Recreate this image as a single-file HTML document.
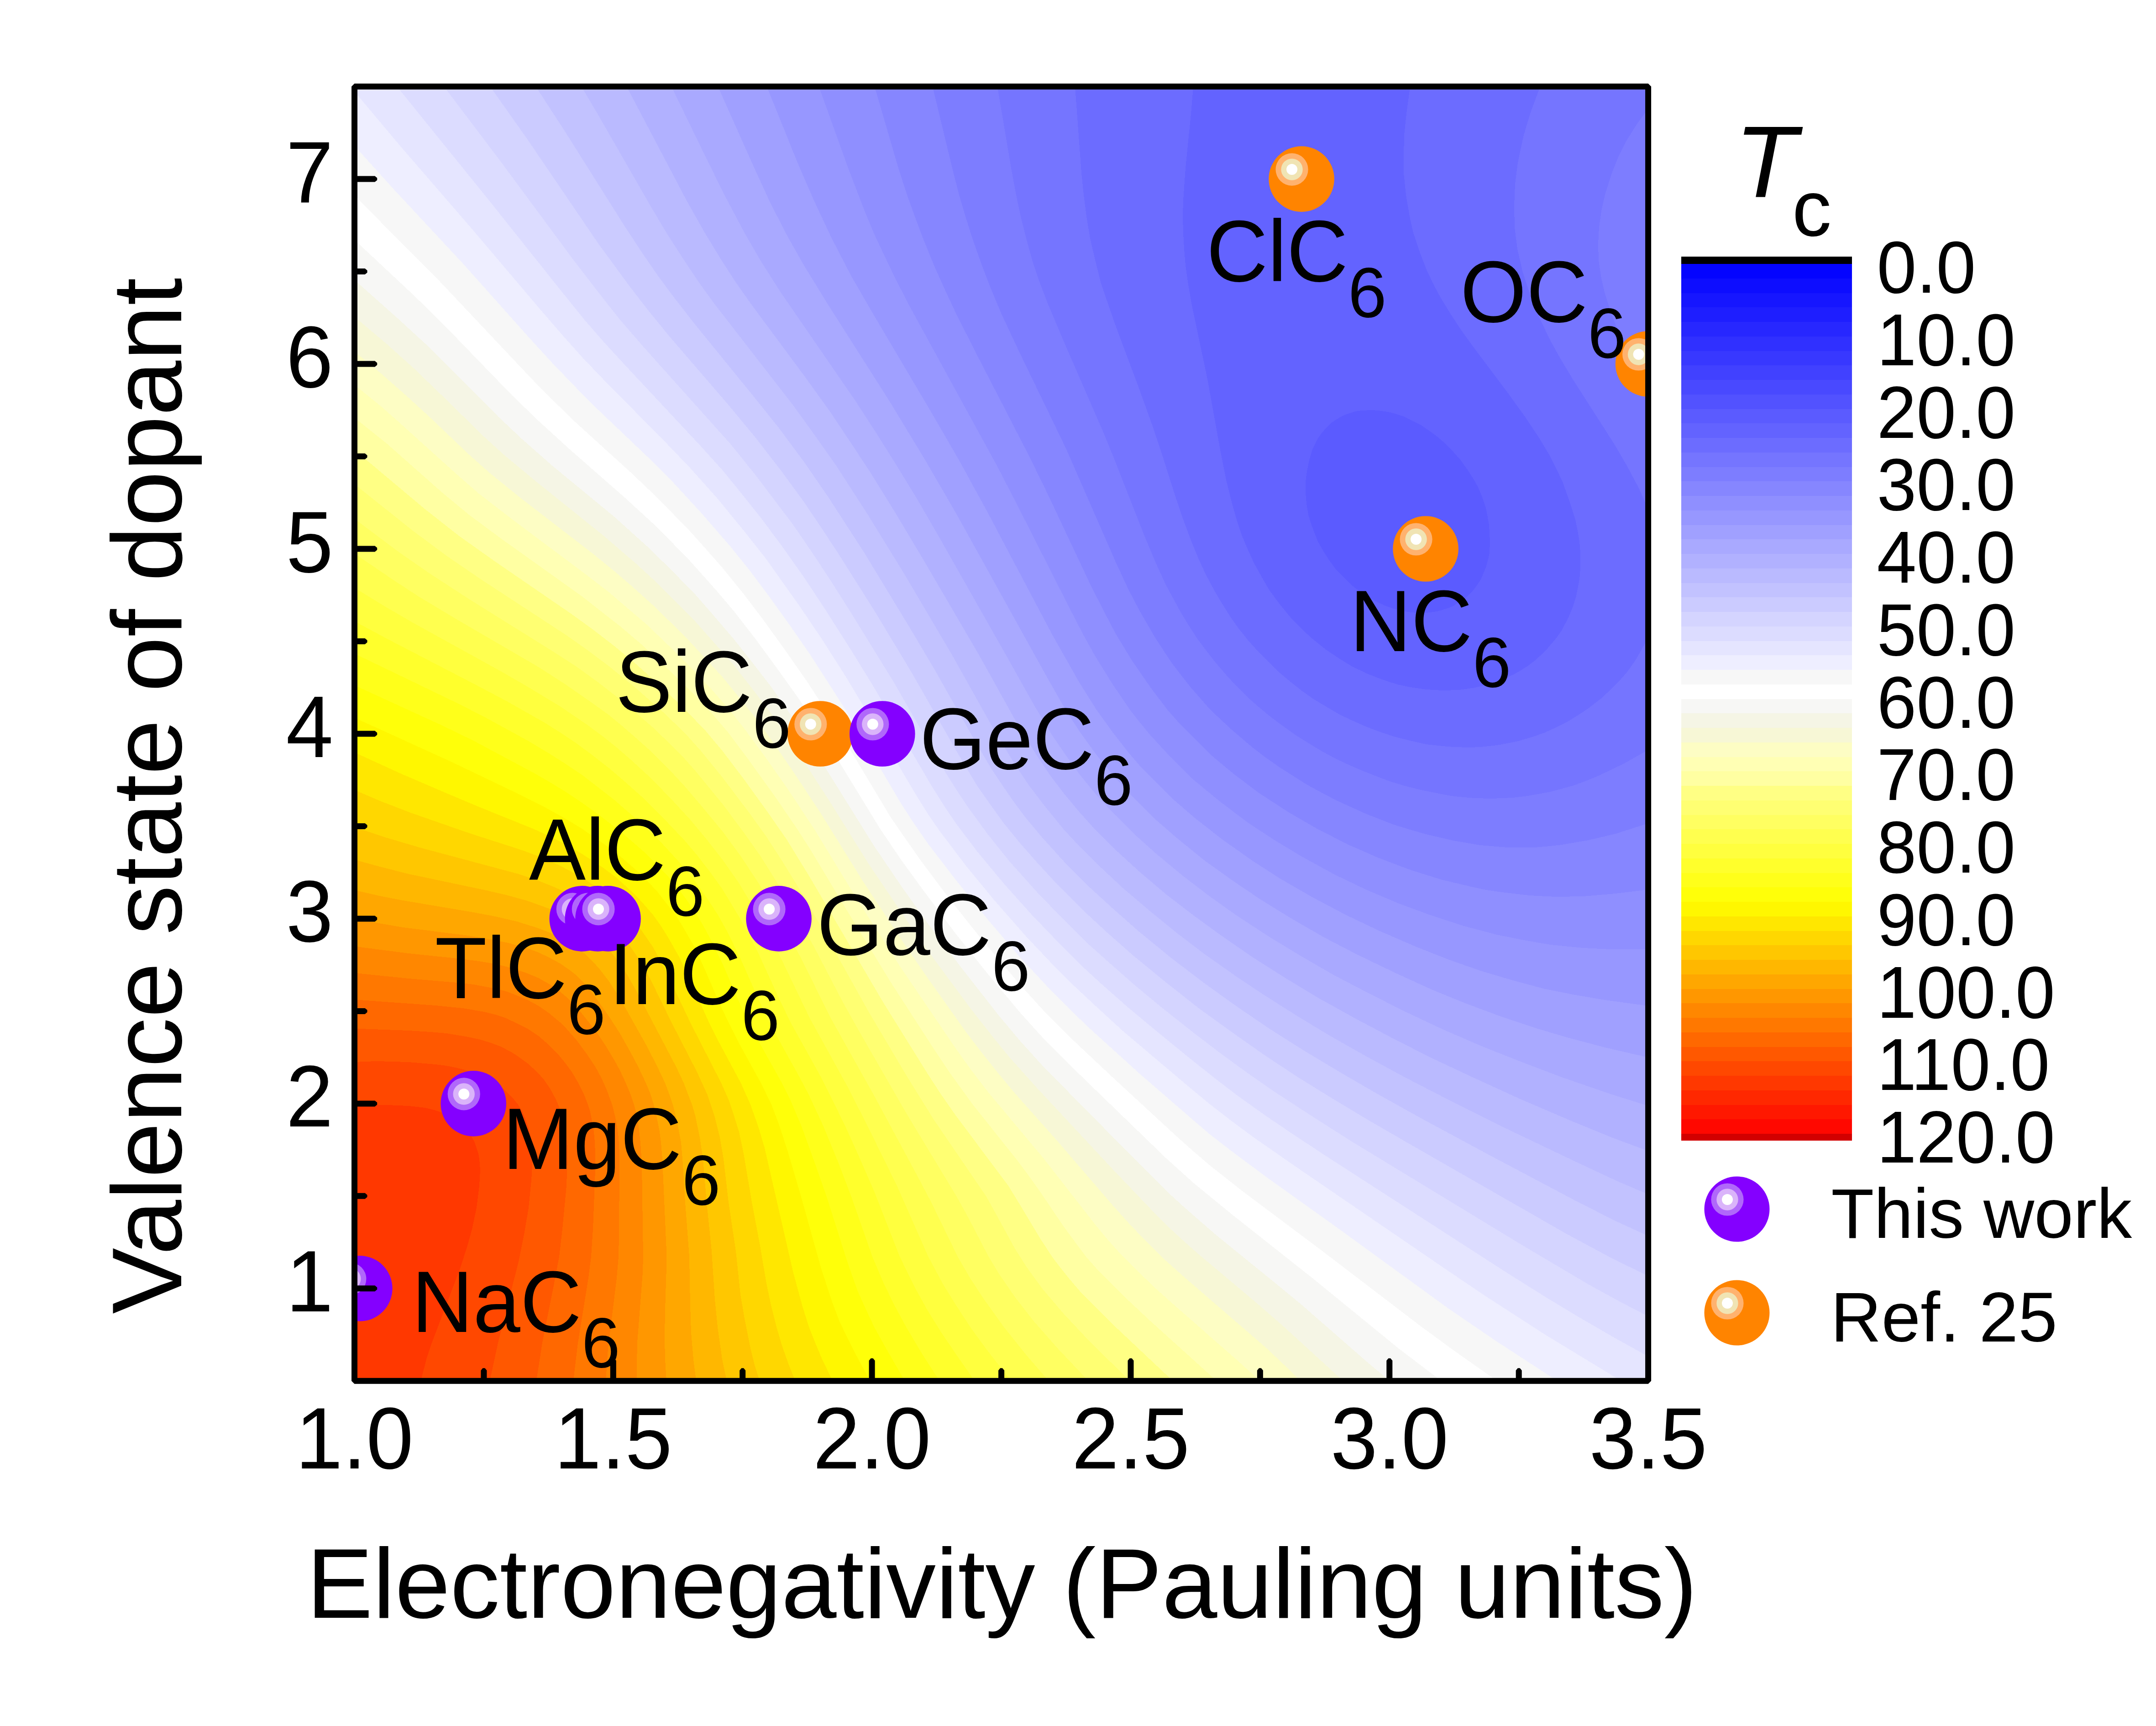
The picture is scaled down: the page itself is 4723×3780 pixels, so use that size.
<!DOCTYPE html>
<html><head><meta charset="utf-8"><title>Tc map</title>
<style>html,body{margin:0;padding:0;background:#fff}svg{display:block}text{font-family:"Liberation Sans",sans-serif;fill:#000}</style></head><body>
<svg width="4723" height="3780" viewBox="0 0 4723 3780">
<rect width="4723" height="3780" fill="#fff"/>
<defs><clipPath id="fr"><rect x="776.5" y="189.6" width="2834.1" height="2834.7"/></clipPath></defs>
<g clip-path="url(#fr)" shape-rendering="crispEdges">
<rect x="775" y="188" width="2836" height="2836" fill="#5b5bff"/>
<path fill="#6363ff" d="M788,190 3611,190 3611,3024 776,3024 776,190ZM2969,901 2947,908 2935,914 2918,925 2905,937 2895,949 2887,960 2881,972 2875,984 2868,1008 2863,1032 2860,1055 2860,1079 2862,1103 2866,1127 2873,1150 2887,1186 2899,1207 2911,1226 2925,1245 2947,1268 2960,1281 2982,1298 2994,1306 3018,1319 3038,1328 3053,1333 3077,1339 3101,1342 3124,1342 3148,1339 3172,1332 3184,1327 3201,1316 3216,1305 3227,1293 3236,1281 3244,1269 3249,1257 3255,1243 3261,1221 3263,1210 3264,1186 3262,1150 3258,1127 3255,1113 3248,1091 3238,1067 3231,1054 3217,1032 3200,1008 3184,990 3167,972 3148,956 3136,947 3113,931 3101,925 3077,913 3053,905 3041,902 3018,899 3006,898 2982,899Z"/>
<path fill="#6c6cff" d="M788,190 2614,190 2609,249 2597,368 2592,439 2591,474 2592,510 2594,545 2597,581 2602,617 2610,664 2645,830 2675,996 2687,1055 2699,1103 2709,1138 2721,1174 2731,1198 2747,1233 2767,1269 2781,1293 2804,1324 2827,1352 2852,1378 2875,1399 2905,1423 2935,1443 2961,1459 2994,1475 3030,1489 3065,1500 3096,1506 3124,1510 3160,1512 3196,1511 3231,1506 3267,1497 3290,1488 3314,1478 3327,1471 3346,1459 3362,1447 3385,1426 3408,1399 3421,1381 3436,1352 3446,1328 3453,1305 3460,1269 3462,1245 3462,1210 3460,1186 3456,1162 3451,1138 3440,1103 3423,1055 3409,1026 3394,996 3373,961 3341,913 3302,859 3227,759 3201,723 3178,688 3156,652 3143,628 3126,593 3112,557 3096,510 3088,474 3080,427 3075,379 3075,344 3076,296 3081,249 3089,190 3611,190 3611,3024 776,3024 776,190Z"/>
<path fill="#7575ff" d="M788,190 2355,190 2369,379 2374,427 2380,474 2388,522 2399,569 2411,617 2425,659 2443,711 2492,842 2522,925 2542,984 2576,1091 2592,1138 2610,1186 2626,1225 2641,1257 2660,1293 2674,1317 2696,1352 2713,1376 2733,1401 2757,1428 2781,1452 2804,1474 2828,1494 2852,1513 2876,1530 2911,1551 2935,1565 2960,1577 2994,1592 3018,1601 3053,1613 3089,1622 3124,1630 3160,1634 3184,1636 3219,1637 3243,1636 3279,1632 3302,1628 3326,1623 3360,1613 3385,1604 3409,1593 3433,1581 3459,1565 3480,1551 3507,1530 3533,1506 3551,1487 3565,1471 3582,1447 3596,1423 3611,1395 3611,3024 776,3024 776,190ZM3373,192 3375,190 3611,190 3611,1119 3600,1091 3589,1067 3564,1020 3536,972 3445,830 3417,783 3397,747 3374,700 3359,664 3346,628 3335,593 3324,545 3318,498 3317,451 3319,403 3325,356 3330,332 3338,296 3352,249Z"/>
<path fill="#7d7dff" d="M788,190 2185,190 2215,368 2226,427 2236,474 2248,522 2261,569 2277,617 2295,664 2330,747 2418,949 2442,1008 2508,1176 2532,1233 2554,1281 2586,1340 2603,1368 2623,1399 2641,1423 2662,1450 2686,1478 2709,1503 2733,1527 2757,1548 2781,1568 2809,1589 2840,1611 2864,1626 2899,1647 2923,1660 2948,1672 2982,1687 3041,1710 3077,1721 3113,1730 3172,1742 3196,1745 3231,1748 3267,1749 3290,1748 3314,1747 3347,1743 3397,1734 3448,1720 3480,1708 3504,1698 3558,1672 3611,1642 3611,3024 776,3024 776,190ZM3611,238 3611,837 3588,806 3567,771 3549,735 3530,688 3515,640 3507,605 3502,569 3501,534 3503,498 3508,462 3516,426 3531,379 3545,344 3563,308 3587,270Z"/>
<path fill="#8686ff" d="M788,190 2043,190 2086,368 2101,427 2115,474 2130,522 2151,581 2169,628 2194,688 2233,771 2336,984 2445,1233 2472,1291 2496,1337 2532,1399 2567,1452 2590,1482 2609,1506 2651,1554 2698,1598 2745,1638 2774,1660 2804,1681 2864,1719 2899,1738 2932,1755 2994,1783 3053,1806 3089,1817 3124,1827 3184,1841 3243,1851 3302,1856 3338,1856 3362,1856 3385,1854 3421,1850 3480,1840 3539,1826 3611,1803 3611,3024 776,3024 776,190Z"/>
<path fill="#8f8fff" d="M788,190 1916,190 1968,368 1987,427 2004,474 2022,522 2046,581 2067,628 2095,688 2137,771 2253,996 2288,1067 2389,1281 2419,1340 2444,1388 2480,1447 2520,1505 2557,1554 2579,1579 2603,1604 2650,1651 2675,1672 2704,1696 2757,1736 2823,1779 2887,1816 2954,1850 3018,1878 3089,1905 3160,1927 3219,1941 3255,1949 3290,1954 3350,1961 3409,1964 3468,1963 3539,1957 3611,1948 3611,3024 776,3024 776,190Z"/>
<path fill="#9797ff" d="M788,190 1794,190 1858,368 1894,462 1914,510 1936,557 1959,605 1989,664 2184,1020 2227,1103 2341,1328 2372,1388 2398,1435 2437,1498 2475,1554 2496,1581 2520,1610 2566,1660 2615,1708 2672,1755 2733,1801 2792,1840 2852,1876 2923,1915 2994,1949 3065,1979 3136,2005 3207,2028 3279,2047 3338,2059 3397,2069 3468,2076 3528,2079 3611,2079 3611,3024 776,3024 776,190Z"/>
<path fill="#a0a0ff" d="M788,190 1680,190 1747,356 1783,439 1822,522 1865,605 1913,688 2039,901 2101,1008 2164,1123 2304,1388 2364,1494 2401,1553 2437,1603 2472,1648 2496,1676 2520,1701 2567,1748 2617,1791 2677,1838 2745,1886 2804,1924 2875,1965 2947,2003 3018,2037 3101,2073 3172,2101 3243,2126 3314,2147 3385,2166 3445,2178 3516,2190 3611,2203 3611,3024 776,3024 776,190Z"/>
<path fill="#a9a9ff" d="M788,190 1573,190 1647,356 1685,439 1721,510 1761,581 1812,664 1950,881 2027,1008 2096,1127 2293,1482 2334,1554 2365,1602 2401,1652 2437,1696 2479,1743 2527,1791 2579,1836 2638,1884 2698,1927 2760,1969 2828,2011 2899,2052 2970,2089 3053,2129 3136,2167 3207,2196 3290,2227 3362,2251 3433,2272 3516,2294 3611,2316 3611,3024 776,3024 776,190Z"/>
<path fill="#b1b1ff" d="M788,190 1471,190 1546,344 1587,427 1631,510 1665,569 1710,640 1874,878 1920,949 1962,1016 2008,1091 2056,1174 2204,1435 2264,1542 2306,1612 2339,1660 2365,1696 2401,1740 2437,1779 2484,1826 2532,1869 2591,1918 2650,1963 2709,2005 2781,2052 2852,2095 2923,2136 2994,2173 3077,2215 3160,2254 3243,2290 3326,2323 3421,2359 3528,2396 3611,2422 3611,3024 776,3024 776,190Z"/>
<path fill="#babaff" d="M788,190 1373,190 1504,439 1544,510 1580,569 1611,617 1644,664 1761,822 1818,901 1858,961 1905,1032 1962,1124 2027,1233 2145,1435 2224,1577 2247,1616 2271,1654 2299,1696 2330,1737 2365,1779 2401,1819 2449,1866 2496,1909 2555,1959 2615,2005 2674,2048 2745,2097 2816,2142 2887,2185 2970,2231 3053,2275 3136,2317 3219,2356 3326,2405 3433,2451 3528,2490 3611,2521 3611,3024 776,3024 776,190Z"/>
<path fill="#c2c2ff" d="M788,190 1274,190 1310,251 1425,451 1460,510 1498,569 1530,617 1564,664 1737,887 1784,952 1832,1020 1901,1127 1981,1257 2086,1435 2179,1601 2222,1672 2254,1720 2290,1767 2329,1815 2365,1854 2413,1901 2460,1945 2520,1996 2579,2044 2638,2089 2709,2139 2769,2179 2840,2224 2911,2267 2994,2314 3077,2359 3172,2408 3290,2467 3445,2541 3539,2585 3611,2616 3611,3024 776,3024 776,190Z"/>
<path fill="#cbcbff" d="M788,190 1174,190 1239,290 1370,498 1409,557 1442,605 1477,652 1523,711 1654,872 1706,937 1761,1011 1816,1091 1893,1210 2001,1388 2050,1471 2137,1625 2172,1684 2196,1720 2223,1759 2247,1791 2282,1833 2330,1886 2377,1934 2437,1989 2496,2041 2567,2099 2638,2153 2709,2204 2781,2253 2852,2298 2935,2348 3018,2396 3113,2449 3267,2532 3456,2632 3539,2674 3611,2707 3611,3024 776,3024 776,190Z"/>
<path fill="#d4d4ff" d="M788,190 1074,190 1156,306 1311,534 1380,628 1417,676 1465,735 1595,886 1654,957 1712,1032 1761,1099 1796,1151 1835,1210 1917,1340 1996,1471 2093,1641 2140,1720 2173,1767 2199,1803 2235,1847 2271,1888 2318,1939 2371,1992 2425,2042 2484,2094 2555,2152 2626,2208 2698,2260 2769,2310 2840,2357 2911,2401 2994,2451 3089,2506 3433,2703 3528,2754 3611,2795 3611,3024 776,3024 776,190Z"/>
<path fill="#dcdcff" d="M788,190 973,190 1097,354 1256,569 1320,652 1358,700 1409,759 1547,913 1600,972 1654,1039 1701,1101 1738,1150 1779,1210 1820,1272 1863,1340 1958,1494 2069,1688 2096,1731 2120,1767 2163,1826 2211,1886 2271,1953 2330,2014 2377,2061 2425,2104 2484,2156 2543,2205 2615,2262 2674,2307 2733,2350 2792,2391 2864,2438 2958,2498 3338,2729 3480,2813 3551,2852 3611,2883 3611,3024 776,3024 776,190Z"/>
<path fill="#e5e5ff" d="M788,190 870,190 1073,441 1222,628 1280,700 1321,747 1364,794 1535,977 1583,1030 1618,1073 1666,1133 1713,1196 1761,1264 1808,1335 1864,1423 1915,1506 2040,1720 2069,1766 2094,1803 2140,1864 2199,1935 2259,2002 2330,2076 2365,2111 2413,2155 2472,2207 2532,2257 2603,2315 2662,2362 2709,2398 2769,2441 2828,2481 2899,2528 3302,2788 3385,2840 3456,2883 3539,2931 3611,2971 3611,3024 776,3024 776,190Z"/>
<path fill="#eeeeff" d="M777,201 877,320 1037,505 1182,676 1233,735 1276,783 1321,830 1464,975 1512,1025 1571,1091 1630,1163 1676,1221 1713,1273 1752,1328 1800,1399 1853,1482 1889,1542 2008,1743 2033,1783 2057,1818 2116,1896 2176,1969 2247,2050 2318,2125 2354,2160 2401,2204 2460,2258 2532,2319 2603,2379 2650,2418 2698,2455 2745,2490 2840,2556 3172,2783 3255,2839 3385,2923 3551,3024 776,3024Z"/>
<path fill="#f7f7f7" d="M777,320 863,415 1014,577 1155,735 1209,794 1290,878 1417,999 1476,1058 1535,1122 1601,1198 1642,1249 1684,1305 1725,1362 1773,1431 1820,1504 1859,1565 1974,1760 2002,1803 2033,1848 2093,1926 2164,2014 2235,2097 2306,2173 2342,2209 2389,2254 2496,2351 2615,2454 2650,2484 2698,2521 2769,2574 2934,2692 3172,2865 3279,2938 3411,3024 776,3024 776,319Z"/>
<path fill="#ffffff" d="M788,439 834,486 966,619 1131,794 1188,854 1261,925 1381,1034 1441,1091 1512,1164 1547,1203 1583,1244 1630,1302 1668,1352 1713,1414 1769,1494 1800,1542 1838,1601 1950,1788 1976,1826 2018,1886 2081,1970 2152,2059 2235,2157 2294,2222 2354,2281 2437,2359 2579,2490 2615,2522 2650,2552 2721,2608 2897,2740 3113,2905 3184,2957 3279,3024 776,3024 776,427Z"/>
<path fill="#f7f7f5" d="M786,534 895,636 943,682 1002,742 1122,866 1180,922 1248,984 1369,1090 1441,1156 1476,1192 1512,1229 1571,1295 1609,1340 1654,1398 1701,1462 1749,1529 1781,1577 1819,1637 1928,1815 1974,1883 2022,1949 2093,2044 2164,2133 2235,2218 2282,2270 2330,2319 2401,2388 2555,2537 2615,2591 2698,2659 2875,2799 3065,2954 3157,3024 776,3024 776,525Z"/>
<path fill="#f5f5e5" d="M781,617 871,697 931,752 990,810 1092,913 1143,961 1210,1020 1346,1132 1417,1196 1452,1230 1488,1266 1524,1303 1559,1343 1607,1399 1642,1443 1690,1505 1725,1555 1761,1607 1796,1662 1915,1853 1974,1940 2033,2023 2105,2118 2188,2224 2235,2280 2282,2332 2342,2393 2496,2549 2555,2608 2591,2641 2662,2703 2795,2811 2852,2858 2994,2982 3044,3024 776,3024 776,613Z"/>
<path fill="#f7f7d6" d="M784,700 848,754 907,807 966,864 1061,957 1104,996 1175,1055 1322,1173 1393,1234 1429,1267 1464,1301 1524,1362 1571,1415 1607,1456 1654,1516 1691,1565 1725,1614 1764,1672 1820,1759 1903,1892 1986,2015 2045,2099 2128,2211 2176,2272 2211,2315 2271,2382 2437,2560 2520,2647 2555,2683 2591,2716 2626,2747 2758,2858 2813,2906 2942,3024 776,3024 776,694Z"/>
<path fill="#fdfdc4" d="M778,771 836,819 895,871 943,915 1028,996 1073,1036 1141,1091 1298,1212 1346,1251 1381,1281 1429,1324 1464,1358 1512,1406 1547,1444 1583,1483 1618,1526 1654,1571 1693,1625 1737,1689 1796,1778 1891,1931 1986,2075 2033,2143 2116,2260 2152,2307 2188,2352 2223,2394 2319,2502 2437,2639 2472,2678 2508,2716 2544,2752 2591,2794 2775,2953 2813,2989 2849,3024 776,3024 776,770Z"/>
<path fill="#ffffb4" d="M788,852 836,891 871,922 1002,1040 1049,1081 1123,1138 1286,1260 1334,1297 1369,1327 1417,1368 1464,1413 1512,1460 1559,1510 1595,1551 1630,1595 1678,1660 1725,1727 1784,1816 1879,1972 1974,2120 2097,2301 2128,2344 2164,2391 2287,2538 2401,2684 2425,2713 2449,2740 2484,2776 2533,2823 2579,2864 2708,2977 2760,3024 776,3024 776,843Z"/>
<path fill="#ffffa2" d="M788,924 848,972 969,1079 1027,1127 1097,1179 1275,1306 1322,1343 1358,1371 1405,1411 1464,1466 1512,1512 1559,1562 1595,1604 1637,1660 1701,1749 1746,1815 1773,1857 1856,1995 1950,2149 2045,2296 2081,2350 2131,2419 2226,2538 2253,2574 2278,2609 2330,2686 2361,2728 2379,2752 2401,2777 2425,2802 2458,2835 2520,2893 2665,3024 776,3024 776,914Z"/>
<path fill="#ffff84" d="M788,995 931,1115 1006,1174 1085,1230 1251,1344 1298,1378 1346,1415 1393,1454 1452,1507 1501,1554 1547,1602 1583,1645 1630,1707 1682,1779 1723,1838 1774,1921 1934,2194 2033,2353 2061,2396 2093,2442 2209,2597 2231,2633 2281,2716 2306,2754 2322,2775 2342,2800 2365,2827 2395,2858 2449,2911 2569,3024 776,3024 776,986Z"/>
<path fill="#ffff72" d="M785,1067 904,1162 978,1217 1054,1269 1239,1390 1286,1423 1334,1459 1393,1507 1452,1559 1500,1605 1535,1644 1583,1703 1642,1781 1678,1831 1713,1885 1750,1945 1798,2028 1903,2216 1986,2356 2045,2451 2161,2621 2181,2657 2223,2734 2249,2775 2284,2823 2330,2877 2389,2940 2475,3024 776,3024 776,1060Z"/>
<path fill="#ffff61" d="M779,1138 875,1210 943,1257 1026,1311 1215,1429 1263,1460 1310,1494 1369,1540 1429,1592 1476,1637 1500,1662 1524,1689 1583,1761 1630,1824 1666,1875 1710,1945 1745,2004 1784,2075 1846,2194 1879,2253 1986,2439 2096,2621 2122,2668 2164,2749 2188,2789 2223,2840 2265,2894 2318,2954 2384,3024 776,3024 776,1137Z"/>
<path fill="#ffff4f" d="M788,1220 860,1269 915,1305 993,1352 1180,1461 1239,1499 1298,1540 1334,1566 1362,1589 1393,1616 1429,1648 1476,1696 1500,1722 1535,1763 1583,1821 1622,1874 1661,1933 1704,2004 1755,2099 1820,2230 1913,2396 2009,2574 2040,2633 2098,2752 2125,2799 2156,2846 2199,2906 2247,2966 2297,3024 776,3024 776,1212Z"/>
<path fill="#ffff3e" d="M786,1293 843,1328 905,1364 1097,1470 1156,1504 1227,1547 1286,1587 1321,1613 1351,1637 1381,1663 1417,1696 1452,1731 1476,1756 1512,1795 1547,1837 1583,1883 1618,1933 1647,1981 1681,2040 1711,2099 1774,2230 1859,2384 1907,2479 1965,2597 2033,2751 2065,2811 2094,2858 2128,2910 2164,2959 2215,3024 776,3024 776,1287Z"/>
<path fill="#ffff2c" d="M783,1364 848,1399 1037,1497 1109,1535 1192,1582 1227,1604 1263,1628 1298,1654 1334,1682 1369,1712 1405,1744 1464,1803 1500,1841 1528,1874 1555,1909 1581,1945 1603,1981 1624,2016 1643,2052 1661,2087 1710,2194 1733,2241 1799,2360 1823,2408 1852,2467 1884,2538 1915,2609 1971,2752 1988,2787 2006,2823 2032,2870 2062,2918 2093,2964 2135,3024 776,3024 776,1360Z"/>
<path fill="#ffff1a" d="M784,1435 1002,1540 1061,1570 1156,1622 1203,1650 1239,1673 1275,1697 1310,1724 1346,1752 1393,1793 1429,1826 1453,1850 1486,1886 1512,1916 1535,1947 1558,1981 1573,2004 1593,2040 1622,2099 1664,2194 1681,2230 1706,2277 1752,2360 1771,2396 1804,2467 1838,2550 1865,2621 1911,2752 1936,2811 1959,2858 1985,2906 2020,2965 2058,3024 776,3024 776,1431Z"/>
<path fill="#ffff09" d="M788,1506 969,1589 1037,1622 1168,1692 1203,1712 1239,1734 1275,1758 1310,1783 1358,1820 1393,1850 1417,1871 1443,1898 1465,1921 1488,1949 1503,1969 1524,1999 1541,2028 1554,2052 1583,2111 1619,2194 1635,2230 1660,2277 1713,2372 1731,2408 1756,2467 1786,2550 1811,2621 1856,2763 1879,2828 1898,2870 1915,2906 1941,2953 1982,3024 776,3024 776,1501Z"/>
<path fill="#fff700" d="M788,1577 990,1669 1132,1737 1192,1767 1239,1793 1275,1815 1310,1839 1346,1865 1369,1884 1393,1905 1417,1928 1441,1954 1462,1981 1480,2004 1495,2028 1522,2075 1544,2123 1580,2206 1597,2241 1618,2283 1667,2372 1690,2419 1708,2467 1727,2526 1755,2621 1798,2775 1821,2846 1839,2894 1856,2929 1874,2965 1906,3024 776,3024 776,1572Z"/>
<path fill="#ffe700" d="M777,1648 882,1696 992,1743 1049,1767 1168,1815 1203,1831 1239,1849 1275,1870 1298,1885 1322,1901 1349,1921 1369,1939 1393,1961 1411,1981 1431,2004 1448,2028 1463,2052 1488,2096 1506,2135 1554,2241 1572,2277 1623,2372 1644,2419 1661,2467 1675,2514 1737,2784 1757,2858 1772,2906 1786,2941 1801,2977 1824,3024 776,3024 776,1648Z"/>
<path fill="#ffd700" d="M779,1731 835,1755 897,1779 1026,1824 1144,1862 1192,1880 1227,1896 1263,1915 1286,1929 1310,1945 1334,1963 1355,1981 1369,1995 1389,2016 1405,2037 1431,2075 1457,2123 1513,2241 1580,2372 1596,2408 1604,2431 1619,2479 1629,2526 1647,2633 1665,2728 1679,2811 1689,2858 1701,2906 1713,2947 1728,2989 1742,3024 776,3024 776,1731Z"/>
<path fill="#ffc700" d="M787,1815 848,1835 919,1856 1132,1913 1180,1929 1215,1943 1239,1954 1263,1966 1286,1981 1310,1998 1332,2016 1346,2030 1365,2052 1381,2073 1405,2109 1426,2147 1472,2241 1527,2348 1549,2396 1557,2419 1565,2443 1577,2491 1585,2538 1596,2633 1612,2740 1622,2835 1630,2882 1644,2953 1653,2989 1664,3024 776,3024 776,1811Z"/>
<path fill="#ffb700" d="M788,1886 836,1899 895,1914 1061,1949 1109,1960 1156,1973 1203,1990 1227,2000 1251,2012 1275,2027 1286,2035 1307,2052 1322,2067 1340,2087 1358,2110 1374,2135 1394,2170 1481,2336 1498,2372 1507,2396 1516,2419 1523,2443 1533,2491 1540,2538 1548,2633 1559,2740 1566,2846 1572,2906 1582,2977 1592,3024 776,3024 776,1882Z"/>
<path fill="#ffa700" d="M788,1952 836,1963 883,1972 1037,1998 1085,2007 1132,2018 1180,2033 1203,2042 1227,2053 1245,2064 1263,2075 1279,2087 1298,2105 1314,2123 1334,2149 1358,2186 1381,2227 1417,2291 1440,2336 1457,2372 1466,2396 1474,2419 1483,2455 1492,2502 1496,2550 1501,2633 1510,2752 1512,2858 1514,2918 1519,2977 1525,3024 776,3024 777,1949Z"/>
<path fill="#ff9700" d="M788,2014 836,2023 883,2031 1026,2049 1073,2057 1109,2064 1132,2070 1156,2077 1180,2086 1203,2097 1227,2110 1246,2123 1263,2136 1284,2158 1298,2175 1334,2226 1358,2263 1381,2304 1398,2336 1415,2372 1425,2396 1432,2419 1438,2443 1445,2479 1448,2502 1451,2538 1460,2740 1460,2775 1457,2870 1456,2929 1457,2977 1460,3024 776,3024 776,2012Z"/>
<path fill="#ff8700" d="M788,2074 895,2088 1002,2099 1049,2105 1085,2111 1109,2117 1132,2124 1156,2132 1180,2142 1203,2155 1225,2170 1239,2182 1263,2205 1283,2230 1310,2265 1326,2289 1346,2322 1358,2344 1371,2372 1381,2396 1389,2419 1395,2443 1399,2467 1403,2502 1406,2550 1409,2752 1408,2787 1396,2941 1395,2989 1395,3024 776,3024 776,2072Z"/>
<path fill="#ff7800" d="M788,2132 895,2143 1002,2152 1037,2156 1085,2165 1109,2171 1132,2180 1156,2190 1180,2203 1203,2219 1227,2239 1241,2253 1263,2278 1286,2309 1304,2336 1317,2360 1328,2384 1341,2419 1347,2443 1352,2467 1355,2491 1357,2526 1357,2562 1356,2704 1355,2752 1351,2799 1332,2953 1327,3024 776,3024 776,2130Z"/>
<path fill="#ff6800" d="M788,2190 954,2202 1014,2208 1061,2216 1085,2222 1109,2230 1132,2241 1156,2253 1180,2269 1203,2289 1226,2313 1239,2329 1253,2348 1267,2372 1279,2396 1286,2414 1292,2431 1297,2455 1301,2479 1303,2502 1304,2526 1304,2562 1299,2692 1295,2752 1289,2799 1266,2941 1256,3024 776,3024 776,2189Z"/>
<path fill="#ff5800" d="M788,2253 895,2257 943,2260 978,2263 1026,2271 1049,2276 1073,2283 1097,2292 1120,2304 1134,2313 1156,2329 1177,2348 1192,2365 1205,2384 1218,2408 1227,2429 1232,2443 1238,2467 1241,2491 1243,2514 1243,2538 1241,2597 1232,2692 1225,2752 1215,2805 1188,2941 1175,3024 776,3024 776,2253Z"/>
<path fill="#ff4800" d="M824,2324 895,2326 954,2331 978,2334 1002,2339 1026,2345 1049,2353 1064,2360 1085,2372 1102,2384 1115,2396 1126,2408 1135,2419 1144,2434 1153,2455 1157,2467 1163,2491 1166,2514 1167,2538 1164,2585 1158,2645 1148,2704 1136,2763 1091,2941 1073,3024 776,3024 776,2326Z"/>
<path fill="#ff3800" d="M788,2422 824,2420 848,2420 895,2422 931,2426 951,2431 966,2436 990,2447 1002,2455 1016,2467 1027,2479 1034,2491 1040,2502 1048,2526 1050,2538 1052,2562 1050,2597 1044,2645 1034,2692 1024,2728 1009,2775 946,2941 934,2977 922,3024 776,3024 776,2423Z"/>
</g>
<g clip-path="url(#fr)">
<circle cx="787.8" cy="2821.8" r="71.8" fill="#8400ff"/><circle cx="766.8" cy="2800.8" r="35.6" fill="#b068fa"/><circle cx="766.8" cy="2800.8" r="23.7" fill="#dab4fa"/><circle cx="766.8" cy="2800.8" r="12" fill="#ffffff"/>
<circle cx="1037.2" cy="2416.9" r="71.8" fill="#8400ff"/><circle cx="1016.2" cy="2395.9" r="35.6" fill="#b068fa"/><circle cx="1016.2" cy="2395.9" r="23.7" fill="#dab4fa"/><circle cx="1016.2" cy="2395.9" r="12" fill="#ffffff"/>
<circle cx="1275.3" cy="2011.9" r="71.8" fill="#8400ff"/><circle cx="1254.3" cy="1990.9" r="35.6" fill="#b068fa"/><circle cx="1254.3" cy="1990.9" r="23.7" fill="#dab4fa"/><circle cx="1254.3" cy="1990.9" r="12" fill="#ffffff"/>
<circle cx="1309.3" cy="2011.9" r="71.8" fill="#8400ff"/><circle cx="1288.3" cy="1990.9" r="35.6" fill="#b068fa"/><circle cx="1288.3" cy="1990.9" r="23.7" fill="#dab4fa"/><circle cx="1288.3" cy="1990.9" r="12" fill="#ffffff"/>
<circle cx="1332.0" cy="2011.9" r="71.8" fill="#8400ff"/><circle cx="1311.0" cy="1990.9" r="35.6" fill="#b068fa"/><circle cx="1311.0" cy="1990.9" r="23.7" fill="#dab4fa"/><circle cx="1311.0" cy="1990.9" r="12" fill="#ffffff"/>
<circle cx="1706.1" cy="2011.9" r="71.8" fill="#8400ff"/><circle cx="1685.1" cy="1990.9" r="35.6" fill="#b068fa"/><circle cx="1685.1" cy="1990.9" r="23.7" fill="#dab4fa"/><circle cx="1685.1" cy="1990.9" r="12" fill="#ffffff"/>
<circle cx="1796.8" cy="1607.0" r="71.8" fill="#ff8400"/><circle cx="1775.8" cy="1586.0" r="35.6" fill="#ffb26e"/><circle cx="1775.8" cy="1586.0" r="23.7" fill="#f0e4b4"/><circle cx="1775.8" cy="1586.0" r="12" fill="#ffffff"/>
<circle cx="1932.8" cy="1607.0" r="71.8" fill="#8400ff"/><circle cx="1911.8" cy="1586.0" r="35.6" fill="#b068fa"/><circle cx="1911.8" cy="1586.0" r="23.7" fill="#dab4fa"/><circle cx="1911.8" cy="1586.0" r="12" fill="#ffffff"/>
<circle cx="3123.1" cy="1202.0" r="71.8" fill="#ff8400"/><circle cx="3102.1" cy="1181.0" r="35.6" fill="#ffb26e"/><circle cx="3102.1" cy="1181.0" r="23.7" fill="#f0e4b4"/><circle cx="3102.1" cy="1181.0" r="12" fill="#ffffff"/>
<circle cx="2851.1" cy="392.1" r="71.8" fill="#ff8400"/><circle cx="2830.1" cy="371.1" r="35.6" fill="#ffb26e"/><circle cx="2830.1" cy="371.1" r="23.7" fill="#f0e4b4"/><circle cx="2830.1" cy="371.1" r="12" fill="#ffffff"/>
<circle cx="3610.6" cy="797.0" r="71.8" fill="#ff8400"/><circle cx="3589.6" cy="776.0" r="35.6" fill="#ffb26e"/><circle cx="3589.6" cy="776.0" r="23.7" fill="#f0e4b4"/><circle cx="3589.6" cy="776.0" r="12" fill="#ffffff"/>
</g>
<g stroke="#000" stroke-width="13" fill="none">
<rect x="776.5" y="189.6" width="2834.1" height="2834.7" stroke-linejoin="bevel"/>
</g>
<path fill="#000" d="M1053.4,3024.3V3001.3L1057.6,2996.3H1062.2L1066.4,3001.3V3024.3ZM1336.8,3024.3V2979.8L1341.0,2974.8H1345.6L1349.8,2979.8V3024.3ZM1620.2,3024.3V3001.3L1624.4,2996.3H1629.0L1633.2,3001.3V3024.3ZM1903.6,3024.3V2979.8L1907.8,2974.8H1912.4L1916.6,2979.8V3024.3ZM2187.1,3024.3V3001.3L2191.2,2996.3H2195.9L2200.1,3001.3V3024.3ZM2470.5,3024.3V2979.8L2474.7,2974.8H2479.3L2483.5,2979.8V3024.3ZM2753.9,3024.3V3001.3L2758.1,2996.3H2762.7L2766.9,3001.3V3024.3ZM3037.3,3024.3V2979.8L3041.5,2974.8H3046.1L3050.3,2979.8V3024.3ZM3320.7,3024.3V3001.3L3324.9,2996.3H3329.5L3333.7,3001.3V3024.3ZM776.5,2815.3H821.2L826.2,2819.5V2824.1L821.2,2828.3H776.5ZM776.5,2612.8H799.5L804.5,2617.0V2621.6L799.5,2625.8H776.5ZM776.5,2410.4H821.2L826.2,2414.6V2419.2L821.2,2423.4H776.5ZM776.5,2207.9H799.5L804.5,2212.1V2216.7L799.5,2220.9H776.5ZM776.5,2005.4H821.2L826.2,2009.6V2014.2L821.2,2018.4H776.5ZM776.5,1802.9H799.5L804.5,1807.1V1811.7L799.5,1815.9H776.5ZM776.5,1600.5H821.2L826.2,1604.7V1609.2L821.2,1613.5H776.5ZM776.5,1398.0H799.5L804.5,1402.2V1406.8L799.5,1411.0H776.5ZM776.5,1195.5H821.2L826.2,1199.7V1204.3L821.2,1208.5H776.5ZM776.5,993.0H799.5L804.5,997.2V1001.8L799.5,1006.0H776.5ZM776.5,790.5H821.2L826.2,794.7V799.3L821.2,803.5H776.5ZM776.5,588.1H799.5L804.5,592.3V596.9L799.5,601.1H776.5ZM776.5,385.6H821.2L826.2,389.8V394.4L821.2,398.6H776.5Z"/>
<g font-size="186" text-anchor="middle">
<text transform="translate(776.5,3216) scale(1,1.03)">1.0</text>
<text transform="translate(1343.3,3216) scale(1,1.03)">1.5</text>
<text transform="translate(1910.1,3216) scale(1,1.03)">2.0</text>
<text transform="translate(2477.0,3216) scale(1,1.03)">2.5</text>
<text transform="translate(3043.8,3216) scale(1,1.03)">3.0</text>
<text transform="translate(3610.6,3216) scale(1,1.03)">3.5</text>
</g>
<g font-size="186" text-anchor="end">
<text transform="translate(730,2872.3) scale(1,1.03)">1</text>
<text transform="translate(730,2467.4) scale(1,1.03)">2</text>
<text transform="translate(730,2062.4) scale(1,1.03)">3</text>
<text transform="translate(730,1657.5) scale(1,1.03)">4</text>
<text transform="translate(730,1252.5) scale(1,1.03)">5</text>
<text transform="translate(730,847.5) scale(1,1.03)">6</text>
<text transform="translate(730,442.6) scale(1,1.03)">7</text>
</g>
<text x="2195" y="3543" font-size="217.5" text-anchor="middle">Electronegativity (Pauling units)</text>
<text transform="translate(397,1743) rotate(-90)" font-size="217.5" text-anchor="middle">Valence state of dopant</text>
<text transform="translate(2957.0,1426.0) scale(1,1.03)" font-size="186" >NC<tspan dy="75.7" font-size="152">6</tspan></text>
<text transform="translate(2643.0,616.3) scale(1,1.03)" font-size="186" >ClC<tspan dy="75.7" font-size="152">6</tspan></text>
<text transform="translate(3199.0,705.0) scale(1,1.03)" font-size="186" >OC<tspan dy="75.7" font-size="152">6</tspan></text>
<text transform="translate(1348.5,1558.7) scale(1,1.03)" font-size="186" >SiC<tspan dy="75.7" font-size="152">6</tspan></text>
<text transform="translate(2014.7,1684.0) scale(1,1.03)" font-size="186" >GeC<tspan dy="75.7" font-size="152">6</tspan></text>
<text transform="translate(1159.0,1926.6) scale(1,1.03)" font-size="186" >AlC<tspan dy="75.7" font-size="152">6</tspan></text>
<text transform="translate(952.7,2185.6) scale(1,1.03)" font-size="186" >TlC<tspan dy="75.7" font-size="152">6</tspan></text>
<text transform="translate(1334.0,2198.6) scale(1,1.03)" font-size="186" >InC<tspan dy="75.7" font-size="152">6</tspan></text>
<text transform="translate(1789.5,2091.0) scale(1,1.03)" font-size="186" >GaC<tspan dy="75.7" font-size="152">6</tspan></text>
<text transform="translate(1101.0,2559.8) scale(1,1.03)" font-size="186" >MgC<tspan dy="75.7" font-size="152">6</tspan></text>
<text transform="translate(902.0,2916.5) scale(1,1.03)" font-size="186" >NaC<tspan dy="75.7" font-size="152">6</tspan></text>
<g shape-rendering="crispEdges">
<rect x="3683.3" y="562.0" width="373.8" height="16.5" fill="#000"/>
<rect x="3683.3" y="578.00" width="373.8" height="32.35" fill="#0404ff"/>
<rect x="3683.3" y="609.75" width="373.8" height="32.35" fill="#0d0dff"/>
<rect x="3683.3" y="641.50" width="373.8" height="32.35" fill="#1616ff"/>
<rect x="3683.3" y="673.25" width="373.8" height="32.35" fill="#1e1eff"/>
<rect x="3683.3" y="705.00" width="373.8" height="32.35" fill="#2727ff"/>
<rect x="3683.3" y="736.75" width="373.8" height="32.35" fill="#3030ff"/>
<rect x="3683.3" y="768.50" width="373.8" height="32.35" fill="#3838ff"/>
<rect x="3683.3" y="800.25" width="373.8" height="32.35" fill="#4141ff"/>
<rect x="3683.3" y="832.00" width="373.8" height="32.35" fill="#4949ff"/>
<rect x="3683.3" y="863.75" width="373.8" height="32.35" fill="#5252ff"/>
<rect x="3683.3" y="895.50" width="373.8" height="32.35" fill="#5b5bff"/>
<rect x="3683.3" y="927.25" width="373.8" height="32.35" fill="#6363ff"/>
<rect x="3683.3" y="959.00" width="373.8" height="32.35" fill="#6c6cff"/>
<rect x="3683.3" y="990.75" width="373.8" height="32.35" fill="#7575ff"/>
<rect x="3683.3" y="1022.50" width="373.8" height="32.35" fill="#7d7dff"/>
<rect x="3683.3" y="1054.25" width="373.8" height="32.35" fill="#8686ff"/>
<rect x="3683.3" y="1086.00" width="373.8" height="32.35" fill="#8f8fff"/>
<rect x="3683.3" y="1117.75" width="373.8" height="32.35" fill="#9797ff"/>
<rect x="3683.3" y="1149.50" width="373.8" height="32.35" fill="#a0a0ff"/>
<rect x="3683.3" y="1181.25" width="373.8" height="32.35" fill="#a9a9ff"/>
<rect x="3683.3" y="1213.00" width="373.8" height="32.35" fill="#b1b1ff"/>
<rect x="3683.3" y="1244.75" width="373.8" height="32.35" fill="#babaff"/>
<rect x="3683.3" y="1276.50" width="373.8" height="32.35" fill="#c2c2ff"/>
<rect x="3683.3" y="1308.25" width="373.8" height="32.35" fill="#cbcbff"/>
<rect x="3683.3" y="1340.00" width="373.8" height="32.35" fill="#d4d4ff"/>
<rect x="3683.3" y="1371.75" width="373.8" height="32.35" fill="#dcdcff"/>
<rect x="3683.3" y="1403.50" width="373.8" height="32.35" fill="#e5e5ff"/>
<rect x="3683.3" y="1435.25" width="373.8" height="32.35" fill="#eeeeff"/>
<rect x="3683.3" y="1467.00" width="373.8" height="32.35" fill="#f7f7f7"/>
<rect x="3683.3" y="1498.75" width="373.8" height="32.35" fill="#ffffff"/>
<rect x="3683.3" y="1530.50" width="373.8" height="32.35" fill="#f7f7f5"/>
<rect x="3683.3" y="1562.25" width="373.8" height="32.35" fill="#f5f5e5"/>
<rect x="3683.3" y="1594.00" width="373.8" height="32.35" fill="#f7f7d6"/>
<rect x="3683.3" y="1625.75" width="373.8" height="32.35" fill="#fdfdc4"/>
<rect x="3683.3" y="1657.50" width="373.8" height="32.35" fill="#ffffb4"/>
<rect x="3683.3" y="1689.25" width="373.8" height="32.35" fill="#ffffa2"/>
<rect x="3683.3" y="1721.00" width="373.8" height="32.35" fill="#ffff84"/>
<rect x="3683.3" y="1752.75" width="373.8" height="32.35" fill="#ffff72"/>
<rect x="3683.3" y="1784.50" width="373.8" height="32.35" fill="#ffff61"/>
<rect x="3683.3" y="1816.25" width="373.8" height="32.35" fill="#ffff4f"/>
<rect x="3683.3" y="1848.00" width="373.8" height="32.35" fill="#ffff3e"/>
<rect x="3683.3" y="1879.75" width="373.8" height="32.35" fill="#ffff2c"/>
<rect x="3683.3" y="1911.50" width="373.8" height="32.35" fill="#ffff1a"/>
<rect x="3683.3" y="1943.25" width="373.8" height="32.35" fill="#ffff09"/>
<rect x="3683.3" y="1975.00" width="373.8" height="32.35" fill="#fff700"/>
<rect x="3683.3" y="2006.75" width="373.8" height="32.35" fill="#ffe700"/>
<rect x="3683.3" y="2038.50" width="373.8" height="32.35" fill="#ffd700"/>
<rect x="3683.3" y="2070.25" width="373.8" height="32.35" fill="#ffc700"/>
<rect x="3683.3" y="2102.00" width="373.8" height="32.35" fill="#ffb700"/>
<rect x="3683.3" y="2133.75" width="373.8" height="32.35" fill="#ffa700"/>
<rect x="3683.3" y="2165.50" width="373.8" height="32.35" fill="#ff9700"/>
<rect x="3683.3" y="2197.25" width="373.8" height="32.35" fill="#ff8700"/>
<rect x="3683.3" y="2229.00" width="373.8" height="32.35" fill="#ff7800"/>
<rect x="3683.3" y="2260.75" width="373.8" height="32.35" fill="#ff6800"/>
<rect x="3683.3" y="2292.50" width="373.8" height="32.35" fill="#ff5800"/>
<rect x="3683.3" y="2324.25" width="373.8" height="32.35" fill="#ff4800"/>
<rect x="3683.3" y="2356.00" width="373.8" height="32.35" fill="#ff3800"/>
<rect x="3683.3" y="2387.75" width="373.8" height="32.35" fill="#ff2800"/>
<rect x="3683.3" y="2419.50" width="373.8" height="32.35" fill="#ff1800"/>
<rect x="3683.3" y="2451.25" width="373.8" height="32.35" fill="#ff0800"/>
<rect x="3683.3" y="2483.00" width="373.8" height="14.50" fill="#d20000"/>
</g>
<g font-size="156">
<text transform="translate(4111.5,641.0) scale(1,1.03)">0.0</text>
<text transform="translate(4111.5,799.8) scale(1,1.03)">10.0</text>
<text transform="translate(4111.5,958.5) scale(1,1.03)">20.0</text>
<text transform="translate(4111.5,1117.2) scale(1,1.03)">30.0</text>
<text transform="translate(4111.5,1276.0) scale(1,1.03)">40.0</text>
<text transform="translate(4111.5,1434.8) scale(1,1.03)">50.0</text>
<text transform="translate(4111.5,1593.5) scale(1,1.03)">60.0</text>
<text transform="translate(4111.5,1752.2) scale(1,1.03)">70.0</text>
<text transform="translate(4111.5,1911.0) scale(1,1.03)">80.0</text>
<text transform="translate(4111.5,2069.8) scale(1,1.03)">90.0</text>
<text transform="translate(4111.5,2228.5) scale(1,1.03)">100.0</text>
<text transform="translate(4111.5,2387.2) scale(1,1.03)">110.0</text>
<text transform="translate(4111.5,2546.0) scale(1,1.03)">120.0</text>
</g>
<text x="3800" y="430.7" font-size="223" font-style="italic">T</text>
<text x="3926" y="515.8" font-size="172">c</text>
<circle cx="3805.0" cy="2648.0" r="71.5" fill="#8400ff"/><circle cx="3784.0" cy="2627.0" r="35.6" fill="#b068fa"/><circle cx="3784.0" cy="2627.0" r="23.7" fill="#dab4fa"/><circle cx="3784.0" cy="2627.0" r="12" fill="#ffffff"/>
<circle cx="3805.0" cy="2875.0" r="71.5" fill="#ff8400"/><circle cx="3784.0" cy="2854.0" r="35.6" fill="#ffb26e"/><circle cx="3784.0" cy="2854.0" r="23.7" fill="#f0e4b4"/><circle cx="3784.0" cy="2854.0" r="12" fill="#ffffff"/>
<text x="4011.3" y="2711" font-size="154">This work</text>
<text x="4010.3" y="2938" font-size="154">Ref. 25</text>
</svg></body></html>
